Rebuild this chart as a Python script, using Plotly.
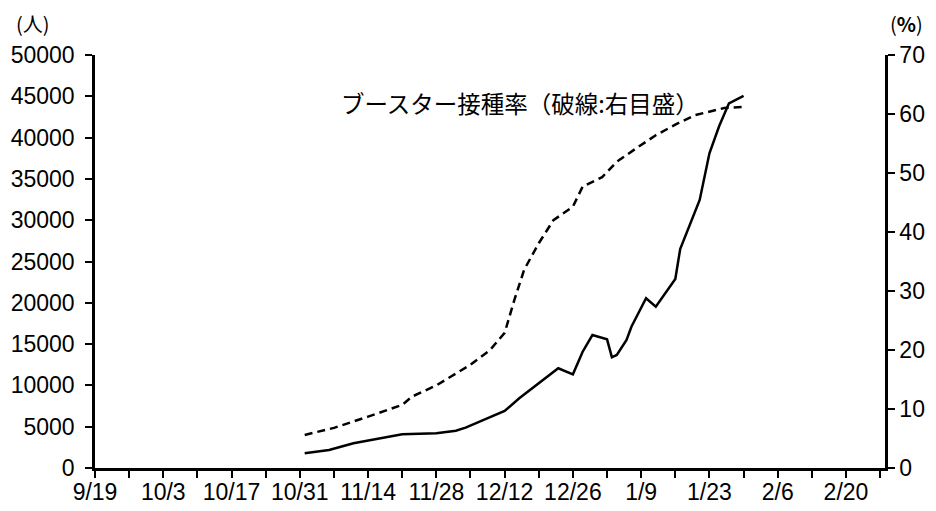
import pandas as pd
import plotly.graph_objects as go

# 新規感染者数（人、左目盛）
case_dates = ["2021-11-01", "2021-11-06", "2021-11-11", "2021-11-16", "2021-11-21",
              "2021-11-28", "2021-12-02", "2021-12-04", "2021-12-08", "2021-12-12",
              "2021-12-15", "2021-12-20", "2021-12-23", "2021-12-26", "2021-12-28",
              "2021-12-30", "2022-01-02", "2022-01-03", "2022-01-04", "2022-01-06",
              "2022-01-07", "2022-01-10", "2022-01-12", "2022-01-16", "2022-01-17",
              "2022-01-21", "2022-01-23", "2022-01-25", "2022-01-27", "2022-01-30"]
cases = [1780, 2180, 2990, 3510, 4080,
         4200, 4520, 4880, 5930, 6900,
         8440, 10650, 12070, 11340, 14080,
         16100, 15580, 13400, 13680, 15500,
         17100, 20550, 19530, 22880, 26510,
         32450, 38100, 41400, 44150, 45040]

# ブースター接種率（%、右目盛）
booster_dates = ["2021-11-01", "2021-11-07", "2021-11-14", "2021-11-21", "2021-11-23",
                 "2021-11-28", "2021-12-01", "2021-12-05", "2021-12-09", "2021-12-12",
                 "2021-12-14", "2021-12-16", "2021-12-19", "2021-12-22", "2021-12-26",
                 "2021-12-28", "2022-01-01", "2022-01-04", "2022-01-08", "2022-01-12",
                 "2022-01-16", "2022-01-20", "2022-01-26", "2022-01-30"]
booster = [5.6, 6.8, 8.7, 10.7, 12.1,
           14.0, 15.5, 17.5, 20.0, 22.9,
           28.5, 33.6, 38.1, 42.0, 44.3,
           47.7, 49.3, 51.9, 54.2, 56.4,
           58.2, 59.8, 61.0, 61.2]

tick_labels = ["9/19", "10/3", "10/17", "10/31", "11/14", "11/28",
               "12/12", "12/26", "1/9", "1/23", "2/6", "2/20"]
tick_dates = pd.date_range("2021-09-19", periods=24, freq="7D")
tick_text = []
for i in range(len(tick_dates)):
    tick_text.append(tick_labels[i // 2] if i % 2 == 0 else "")

font_family = "Liberation Sans, Arial, Noto Sans CJK JP"

fig = go.Figure()

fig.add_trace(go.Scatter(
    x=case_dates, y=cases,
    mode="lines",
    line=dict(color="black", width=2.5),
    yaxis="y",
))

fig.add_trace(go.Scatter(
    x=booster_dates, y=booster,
    mode="lines",
    line=dict(color="black", width=2.5, dash="8px,5px"),
    yaxis="y2",
))

axis_style = dict(
    showgrid=False, zeroline=False, automargin=False,
    showline=True, linecolor="black", linewidth=2.5,
    ticks="outside", tickcolor="black", tickwidth=2, ticklen=7,
    tickfont=dict(size=23, color="black", family=font_family),
)

# the page body has an 8px margin, so the figure is a little smaller than the window
fig.update_layout(
    width=928, height=503,
    margin=dict(l=87, r=51, t=47, b=43),
    paper_bgcolor="white", plot_bgcolor="white",
    showlegend=False,
    font=dict(family=font_family, color="black"),
    xaxis=dict(
        range=["2021-09-19", "2022-02-28"],
        tickmode="array", tickvals=tick_dates, ticktext=tick_text,
        ticklabelstandoff=-5,
        **axis_style,
    ),
    yaxis=dict(range=[0, 50000], dtick=5000, tickformat="d",
               ticklabelstandoff=6, **axis_style),
    yaxis2=dict(range=[0, 70], dtick=10, overlaying="y", side="right", **axis_style),
    annotations=[
        dict(text="ブースター接種率（破線:右目盛）", xref="paper", yref="paper",
             x=0.538, y=0.884, xanchor="center", yanchor="middle", showarrow=False,
             font=dict(size=23.5, color="black", family="Noto Sans CJK JP")),
        dict(text="(人)", xref="paper", yref="paper",
             x=-0.078, y=1.077, xanchor="center", yanchor="middle", showarrow=False,
             borderpad=0,
             font=dict(size=20, color="black", family="Noto Sans CJK JP")),
        dict(text="(<b>%</b>)", xref="paper", yref="paper",
             x=1.027, y=1.077, xanchor="center", yanchor="middle", showarrow=False,
             borderpad=0,
             font=dict(size=20, color="black", family="Noto Sans CJK JP")),
    ],
)

fig.write_html("out.html")
